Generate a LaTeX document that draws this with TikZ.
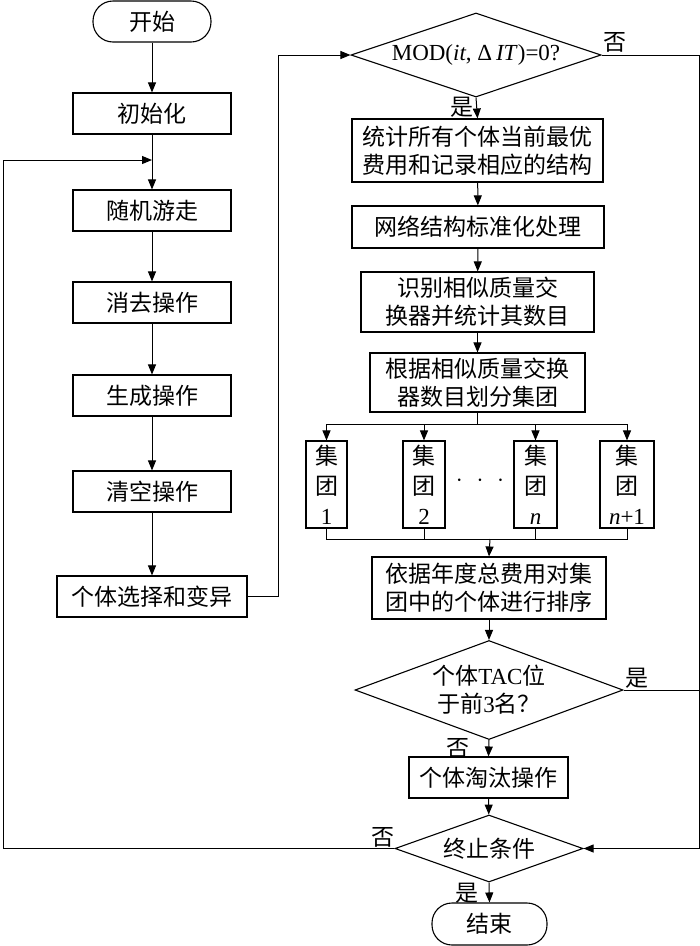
\documentclass[tikz,border=0pt]{standalone}
\usepackage{fontspec}
\setmainfont{Liberation Serif}
\newfontfamily\cjk{Noto Sans CJK SC}
\usetikzlibrary{shapes.geometric,arrows.meta}

\tikzset{
  flowbox/.style={draw, line width=1.1pt, rectangle, inner sep=0pt,
    minimum height=41pt, align=center, font=\cjk\fontsize{23}{28}\selectfont},
  terminal/.style={flowbox, rounded corners=20pt},
  decision/.style={draw, line width=1.1pt, diamond, inner sep=0pt, aspect=2.8,
    align=center, font=\cjk\fontsize{23}{28}\selectfont},
  groupbox/.style={flowbox, minimum height=87pt, font=\cjk\fontsize{23}{30}\selectfont},
  tag/.style={inner sep=0pt, font=\cjk\fontsize{23}{28}\selectfont},
  line/.style={line width=1pt},
  arr/.style={line, -{Triangle[length=10pt,width=8pt]}},
}

\begin{document}
\begin{tikzpicture}[x=1pt,y=-1pt]
\useasboundingbox (0,0) rectangle (700,946);

% Left column
\node[terminal, minimum width=118pt] (start) at (152,21.5) {开始};
\node[flowbox, minimum width=158pt] (init) at (152,113.5) {初始化};
\node[flowbox, minimum width=158pt] (walk) at (152,210.5) {随机游走};
\node[flowbox, minimum width=158pt] (elim) at (152,302.5) {消去操作};
\node[flowbox, minimum width=158pt] (gen) at (152,395.5) {生成操作};
\node[flowbox, minimum width=158pt] (clear) at (152,491.5) {清空操作};
\node[flowbox, minimum width=190pt] (select) at (152,596.5) {个体选择和变异};

% Right column, upper part
\node[decision, minimum width=250pt, minimum height=84pt, aspect=3] (mod) at (476,55)
  {{\rmfamily MOD(\textit{it}, Δ\,\textit{IT})=0?}};
\node[flowbox, minimum width=251pt, minimum height=63pt] (stat) at (477.5,150.5)
  {统计所有个体当前最优\\费用和记录相应的结构};
\node[flowbox, minimum width=252pt, minimum height=42pt] (norm) at (478,227) {网络结构标准化处理};
\node[flowbox, minimum width=233pt, minimum height=60pt] (ident) at (477.5,302)
  {识别相似质量交\\换器并统计其数目};
\node[flowbox, minimum width=215pt, minimum height=59pt] (divide) at (477.5,382.5)
  {根据相似质量交换\\器数目划分集团};

% Groups
\node[groupbox, minimum width=41pt] (g1) at (326.5,484.5) {集\\团\\{\rmfamily 1}};
\node[groupbox, minimum width=42pt] (g2) at (424,484.5) {集\\团\\{\rmfamily 2}};
\node[groupbox, minimum width=43pt] (gn) at (535.5,484.5) {集\\团\\{\rmfamily\itshape n}};
\node[groupbox, minimum width=54pt] (gm) at (627,484.5) {集\\团\\{\rmfamily\itshape n\upshape +1}};
\node[inner sep=0pt, font=\fontsize{23}{28}\selectfont] (dots) at (480,481) {$\cdot\,\,\cdot\,\,\cdot$};

% Right column, lower part
\node[flowbox, minimum width=234pt, minimum height=62pt] (sort) at (489,588)
  {依据年度总费用对集\\团中的个体进行排序};
\node[decision, minimum width=268pt, minimum height=99pt, aspect=2.7] (tac) at (489,690)
  {个体{\rmfamily TAC}位\\于前{\rmfamily 3}名？};
\node[flowbox, minimum width=159pt] (drop) at (488.5,777.5) {个体淘汰操作};
\node[decision, minimum width=188pt, minimum height=67pt] (stop) at (489,848.5) {终止条件};
\node[terminal, minimum width=115pt, minimum height=42pt] (finish) at (489.5,924) {结束};

% Helper points
\coordinate (loopin) at (152,160);
\coordinate (ltop) at (3,160);
\coordinate (lbot) at (3,848.5);
\coordinate (midup) at (278,55);
\coordinate (rtop) at (699,55);
\coordinate (rbot) at (699,848.5);
\coordinate (split) at (477.5,424);
\coordinate (join) at (490,539);

% Left column connectors
\draw[arr] (start) -- (init);
\draw[arr] (init) -- (walk);
\draw[arr] (walk) -- (elim);
\draw[arr] (elim) -- (gen);
\draw[arr] (gen) -- (clear);
\draw[arr] (clear) -- (select);
\draw[arr] (select.east) -| (midup) -- (mod.west);

% Right column connectors
\draw[arr] (mod.south) -- (stat.north);
\draw[arr] (stat) -- (norm);
\draw[arr] (norm) -- (ident);
\draw[arr] (ident) -- (divide);
\draw[line] (divide.south) -- (split);
\foreach \g in {g1,g2,gn,gm}
  \draw[arr] (split) -| (\g.north);
\foreach \g in {g1,g2,gn,gm}
  \draw[line] (\g.south) |- (join);
\draw[arr] (join) -- (sort.north);
\draw[arr] (sort) -- (tac);
\draw[arr] (tac.south) -- (drop.north);
\draw[arr] (drop) -- (stop);
\draw[arr] (stop.south) -- (finish.north);

% Feedback lines
\draw[line] (mod.east) -- (rtop) -- (rbot);
\draw[arr] (rbot) -- (stop.east);
\draw[line] (tac.east) -- (tac.east -| rtop);
\draw[line] (stop.west) -- (lbot) -- (ltop);
\draw[arr] (ltop) -- (loopin);

% Branch labels
\node[tag] (modno) at (615,42) {否};
\node[tag] (modyes) at (462,107) {是};
\node[tag] (tacyes) at (637,678) {是};
\node[tag] (tacno) at (458,748) {否};
\node[tag] (stopno) at (383,837) {否};
\node[tag] (stopyes) at (467,893) {是};
\end{tikzpicture}
\end{document}
